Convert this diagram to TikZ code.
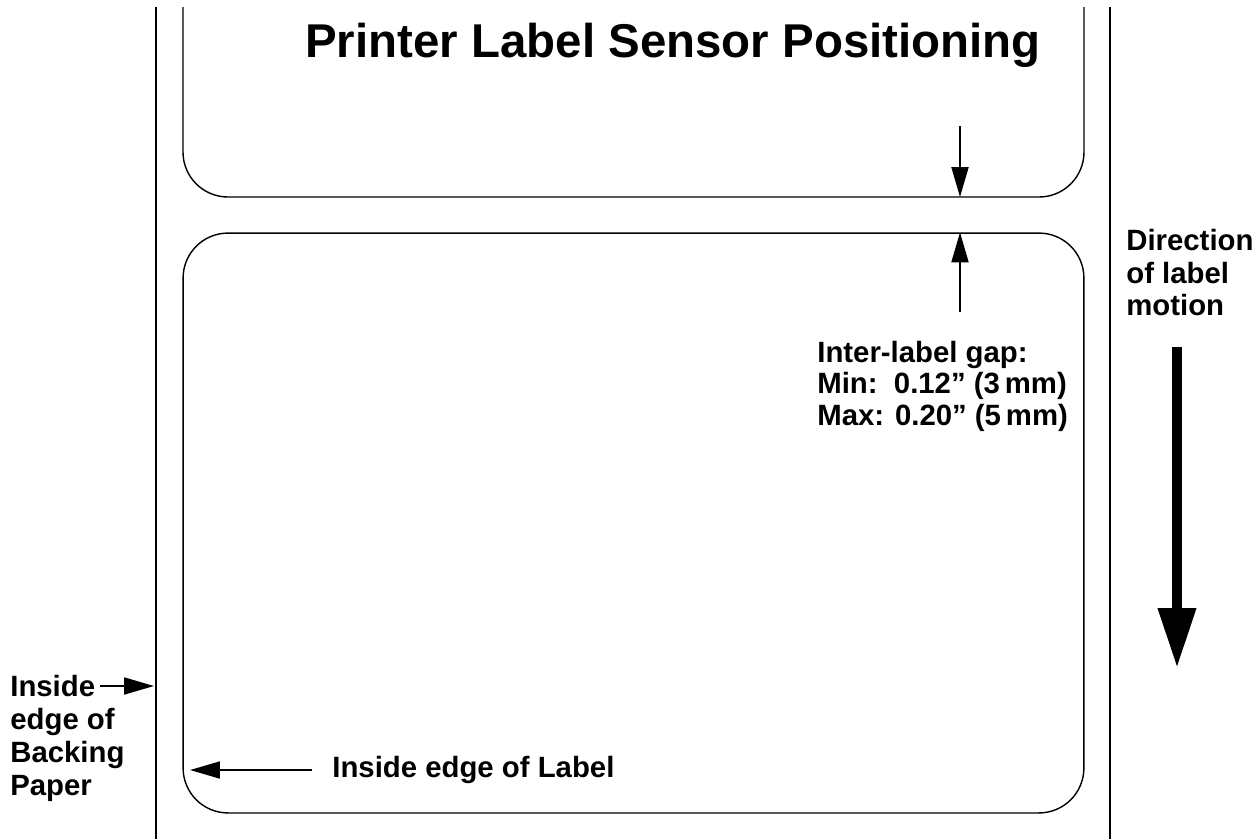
\documentclass[tikz,border=0pt]{standalone}
\usepackage{fontspec}
\setmainfont{Liberation Sans}
\usetikzlibrary{arrows.meta}

\begin{document}
\begin{tikzpicture}[x=0.02cm, y=-0.02cm,
					backing/.style={line width=1.6pt},
					labelbox/.style={rectangle, draw=black, line width=0.8pt, rounded corners=0.9cm,
						minimum width=18.02cm, minimum height=11.6cm, inner sep=0pt},
					note/.style={align=left, inner sep=0pt, anchor=north west},
					pointer/.style={line width=1.1pt, -{Triangle[length=0.6cm, width=0.34cm]}},
					motion/.style={line width=5.7pt, -{Triangle[length=1.2cm, width=0.72cm]}}
					]
					\useasboundingbox (0,0) rectangle (1255,839);
					% backing paper
					\draw[backing] (156,7) -- (156,839);
					\draw[backing] (1110,7) -- (1110,839);
					% labels
					\draw[line width=0.8pt, rounded corners=0.9cm] (183,7) -- (183,197) -- (1084,197) -- (1084,7);
					\node[labelbox] (lbl) at (633.5,523) {};
					\node[anchor=base west, inner sep=0pt, font=\fontsize{27}{32}\selectfont\bfseries] (title) at (305,57) {Printer Label Sensor Positioning};
					% gap
					\coordinate (gapfrom) at (960,126);
					\coordinate (upperedge) at (960,197);
					\coordinate (gapup) at (960,312);
					\draw[pointer] (gapfrom) -- (upperedge);
					\draw[pointer] (gapup) -- (gapup |- lbl.north);
					\node[note, font=\fontsize{16.7}{17.8}\selectfont\bfseries] (gap) at (817,341)
						{Inter-label gap:\\Min:\ \ 0.12” (3\,mm)\\Max: 0.20” (5\,mm)};
					% motion
					\node[note, font=\fontsize{16.7}{18.6}\selectfont\bfseries] (direction) at (1126,229)
						{Direction\\of label\\motion};
					\coordinate (motiontop) at (1177,347);
					\coordinate (motionend) at (1177,668);
					\draw[motion] (motiontop) -- (motionend);
					% edges
					\node[note, font=\fontsize{16.7}{18.8}\selectfont\bfseries] (paper) at (10,675)
						{Inside\\edge of\\Backing\\Paper};
					\coordinate (paperfrom) at (100,686);
					\coordinate (papertip) at (154,686);
					\draw[pointer] (paperfrom) -- (papertip);
					\node[anchor=base west, inner sep=0pt, font=\fontsize{16.7}{18.8}\selectfont\bfseries] (edge) at (332,777) {Inside edge of Label};
					\coordinate (edgefrom) at (312,770);
					\coordinate (edgetip) at (190,770);
					\draw[pointer] (edgefrom) -- (edgetip);
				\end{tikzpicture}
\end{document}
